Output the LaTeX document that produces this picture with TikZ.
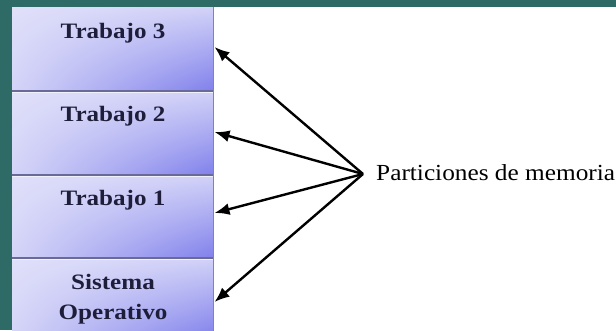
\documentclass[tikz,border=0pt]{standalone}
\usepackage{fontspec}
\setmainfont{Liberation Serif}
\usetikzlibrary{arrows.meta,shadings}
\definecolor{teal0}{HTML}{2E6B66}
\definecolor{lavA}{HTML}{E0E0FA}
\definecolor{lavB}{HTML}{D2D2F8}
\definecolor{lavC}{HTML}{D4D4F8}
\definecolor{lavD}{HTML}{8080EC}
\definecolor{navy}{HTML}{1E1E3A}
\definecolor{sepc}{HTML}{6A6A98}
\definecolor{edgec}{HTML}{7C7CE0}
\tikzset{
  memblock/.style={shade, upper left=lavA, upper right=lavB, lower left=lavC, lower right=lavD,
    minimum width=201pt, inner sep=0pt, outer sep=0pt, anchor=north west},
  blabel/.style={text=navy, font=\fontsize{22}{30}\selectfont\bfseries, xscale=1.14, align=center, inner sep=0pt},
  plabel/.style={text=black, font=\fontsize{23}{26}\selectfont, xscale=1.1, inner sep=0pt, anchor=base west},
  parrow/.style={line width=2.4pt, -{Latex[length=15pt,width=12pt]}},
  sepline/.style={sepc, line width=1.3pt}
}
\begin{document}
\begin{tikzpicture}[x=1pt,y=-1pt]
\useasboundingbox (0,0) rectangle (616,330);
\clip (0,0) rectangle (616,330);
\fill[teal0] (0,0) rectangle (616,330);
\fill[white] (12,7) rectangle (616,330);
\node[memblock, minimum height=84pt] (b3) at (12,7) {};
\node[memblock, minimum height=84pt] (b2) at (12,91) {};
\node[memblock, minimum height=83pt] (b1) at (12,175) {};
\node[memblock, minimum height=80pt] (b0) at (12,258) {};
\draw[sepline] (b2.north west) -- (b2.north east);
\draw[sepline] (b1.north west) -- (b1.north east);
\draw[sepline] (b0.north west) -- (b0.north east);
\draw[white!70!lavB, line width=0.8pt] ([yshift=-1.2pt]b2.north west) -- ([yshift=-1.2pt]b2.north east);
\draw[white!70!lavB, line width=0.8pt] ([yshift=-1.2pt]b1.north west) -- ([yshift=-1.2pt]b1.north east);
\draw[white!70!lavB, line width=0.8pt] ([yshift=-1.2pt]b0.north west) -- ([yshift=-1.2pt]b0.north east);
\draw[edgec, line width=1pt] (b3.north east) -- (b0.south east);
\node[blabel, anchor=base] (t3) at (113,38) {Trabajo 3};
\node[blabel, anchor=base] (t2) at (113,121) {Trabajo 2};
\node[blabel, anchor=base] (t1) at (113,205) {Trabajo 1};
\node[blabel] (t0) at (113,299) {Sistema\\Operativo};
\node[plabel] (pm) at (376,180) {Particiones de memoria};
\coordinate (o) at (363,174);
\draw[parrow] (o) -- ([shift={(1.5,-2)}]b3.east);
\draw[parrow] (o) -- ([shift={(1.5,-1)}]b2.east);
\draw[parrow] (o) -- ([shift={(1.5,-3.5)}]b1.east);
\draw[parrow] (o) -- ([shift={(1.5,4)}]b0.east);
\end{tikzpicture}
\end{document}
